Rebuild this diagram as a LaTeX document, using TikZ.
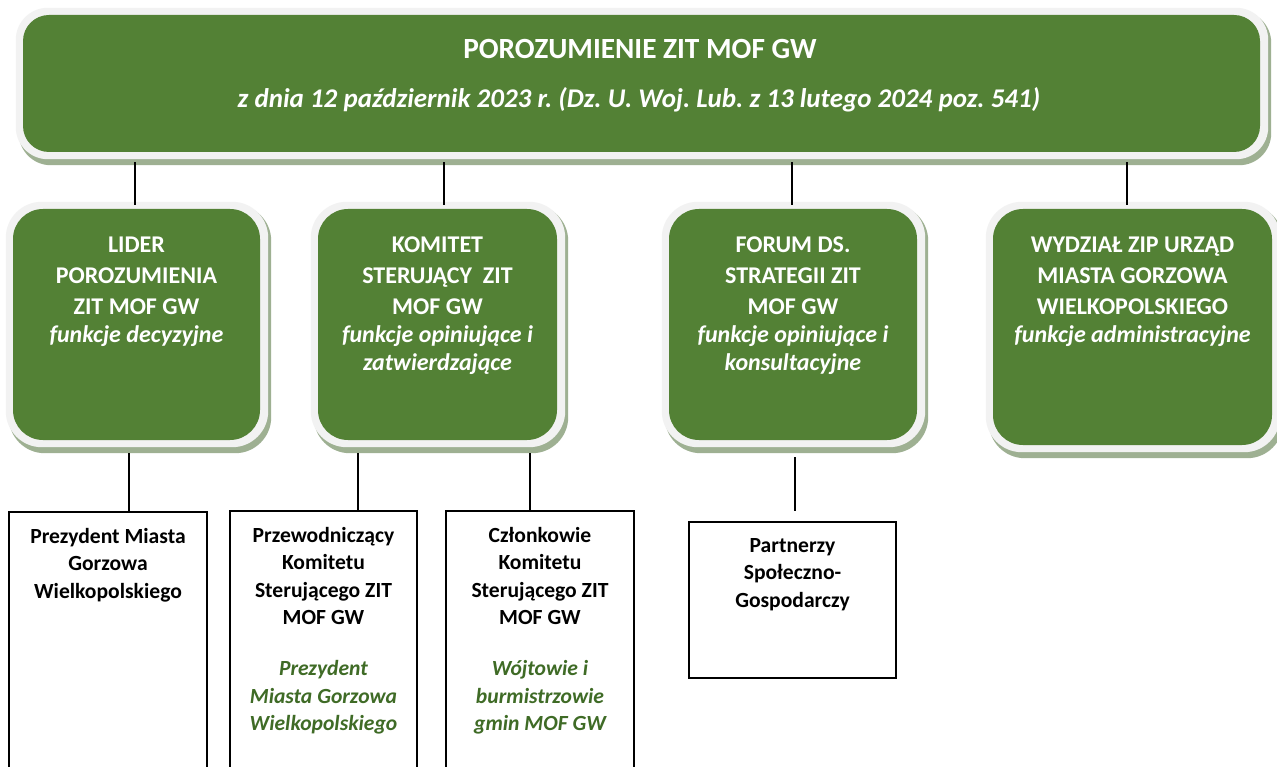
\documentclass[tikz,border=0pt]{standalone}
\usepackage{fontspec}
\setmainfont{Carlito}
\usetikzlibrary{backgrounds,calc}
\definecolor{zgreen}{HTML}{538135}
\definecolor{zframe}{HTML}{F2F2F2}
\definecolor{zshadow}{HTML}{9EB092}
\definecolor{zdark}{HTML}{3F6B26}
\newcommand{\zgi}[1]{{\color{zdark}\itshape #1}}
\frenchspacing
\tikzset{
  gbox/.style={fill=zgreen, rounded corners=#1, inner sep=0pt},
  wbox/.style={draw=black, line width=2pt, fill=white, inner sep=0pt},
  conn/.style={draw=black, line width=2pt},
  toptxt/.style={anchor=base, inner sep=0pt, text=white},
  midtxt/.style={anchor=base, inner sep=0pt, text=white, font=\bfseries\fontsize{24}{31}\selectfont},
  lowtxt/.style={anchor=base, inner sep=0pt, text=black, font=\bfseries\fontsize{21.6}{27.5}\selectfont},
}
\newcommand{\zframe}[2]{%
  \begin{scope}[on background layer]
    \fill[zshadow, rounded corners=#2] ($(#1.north west)+(-4,-4)$) rectangle ($(#1.south east)+(11,13)$);
    \fill[zframe, rounded corners=#2] ($(#1.north west)+(-7,-7)$) rectangle ($(#1.south east)+(8,7)$);
  \end{scope}}
\begin{document}
\begin{tikzpicture}[x=1pt,y=-1pt]
\useasboundingbox (0,0) rectangle (1277,767);
\begin{scope}[on background layer]
  \fill[white] (0,0) rectangle (1277,767);
\end{scope}

% top box
\node[gbox=26pt, minimum width=1237pt, minimum height=137pt] (top) at (641.5,83.5) {};
\zframe{top}{32pt}
\node[toptxt, font=\bfseries\fontsize{29.3}{34}\selectfont] (t0a) at (640,59) {POROZUMIENIE ZIT MOF GW};
\node[toptxt, font=\bfseries\itshape\fontsize{27}{32}\selectfont] (t0b) at (639,108) {z dnia 12 październik 2023 r. (Dz. U. Woj. Lub. z 13 lutego 2024 poz. 541)};

% second row
\node[gbox=30pt, minimum width=247pt, minimum height=231pt] (b1) at (136.5,324.5) {};
\node[gbox=30pt, minimum width=239pt, minimum height=231pt] (b2) at (437.5,324.5) {};
\node[gbox=30pt, minimum width=248pt, minimum height=231pt] (b3) at (793,324.5) {};
\node[gbox=30pt, minimum width=279pt, minimum height=236pt] (b4) at (1132.5,327) {};
\zframe{b1}{36pt}
\zframe{b2}{36pt}
\zframe{b3}{36pt}
\zframe{b4}{36pt}

\node[midtxt] (t1) at (136.5,253) {\begin{tabular}[t]{@{}c@{}}LIDER\\POROZUMIENIA\\ZIT MOF GW\\[-3pt]\itshape funkcje decyzyjne\end{tabular}};
\node[midtxt] (t2) at (437.5,253) {\begin{tabular}[t]{@{}c@{}}KOMITET\\STERUJĄCY\ \ ZIT\\MOF GW\\[-3pt]\itshape funkcje opiniujące i\\[-3pt]\itshape zatwierdzające\end{tabular}};
\node[midtxt] (t3) at (793,253) {\begin{tabular}[t]{@{}c@{}}FORUM DS.\\STRATEGII ZIT\\MOF GW\\[-3pt]\itshape funkcje opiniujące i\\[-3pt]\itshape konsultacyjne\end{tabular}};
\node[midtxt] (t4) at (1132.5,253) {\begin{tabular}[t]{@{}c@{}}WYDZIAŁ ZIP URZĄD\\MIASTA GORZOWA\\WIELKOPOLSKIEGO\\[-3pt]\itshape funkcje administracyjne\end{tabular}};

% bottom row
\node[wbox, minimum width=198pt, minimum height=300pt] (pa) at (108,662) {};
\node[wbox, minimum width=187pt, minimum height=300pt] (pb) at (323.5,661) {};
\node[wbox, minimum width=188pt, minimum height=300pt] (pc) at (540,661) {};
\node[wbox, minimum width=207pt, minimum height=156pt] (pd) at (792.5,600) {};

\node[lowtxt] (ta) at (108,543) {\begin{tabular}[t]{@{}c@{}}Prezydent Miasta\\Gorzowa\\Wielkopolskiego\end{tabular}};
\node[lowtxt] (tb) at (323.5,542) {\begin{tabular}[t]{@{}c@{}}Przewodniczący\\Komitetu\\Sterującego ZIT\\MOF GW\\[23.5pt]\zgi{Prezydent}\\\zgi{Miasta Gorzowa}\\\zgi{Wielkopolskiego}\end{tabular}};
\node[lowtxt] (tc) at (540,542) {\begin{tabular}[t]{@{}c@{}}Członkowie\\Komitetu\\Sterującego ZIT\\MOF GW\\[23.5pt]\zgi{Wójtowie i}\\\zgi{burmistrzowie}\\\zgi{gmin MOF GW}\end{tabular}};
\node[lowtxt] (td) at (792.5,552) {\begin{tabular}[t]{@{}c@{}}Partnerzy\\Społeczno-\\Gospodarczy\end{tabular}};

% connectors
\coordinate (x1) at (135,0);
\coordinate (x2) at (444,0);
\coordinate (x3) at (792,0);
\coordinate (x4) at (1127,0);
\coordinate (y1) at (129,0);
\coordinate (y2) at (358,0);
\coordinate (y3) at (530,0);
\coordinate (y4) at (795,0);
\draw[conn] ($(top.south -| x1)+(0,10)$) -- ($(b1.north -| x1)+(0,-4)$);
\draw[conn] ($(top.south -| x2)+(0,10)$) -- ($(b2.north -| x2)+(0,-4)$);
\draw[conn] ($(top.south -| x3)+(0,10)$) -- ($(b3.north -| x3)+(0,-4)$);
\draw[conn] ($(top.south -| x4)+(0,10)$) -- ($(b4.north -| x4)+(0,-4)$);
\draw[conn] ($(b1.south -| y1)+(0,13)$) -- (pa.north -| y1);
\draw[conn] ($(b2.south -| y2)+(0,13)$) -- (pb.north -| y2);
\draw[conn] ($(b2.south -| y3)+(0,13)$) -- (pc.north -| y3);
\draw[conn] ($(b3.south -| y4)+(0,17)$) -- ($(pd.north -| y4)+(0,-10)$);
\end{tikzpicture}
\end{document}
